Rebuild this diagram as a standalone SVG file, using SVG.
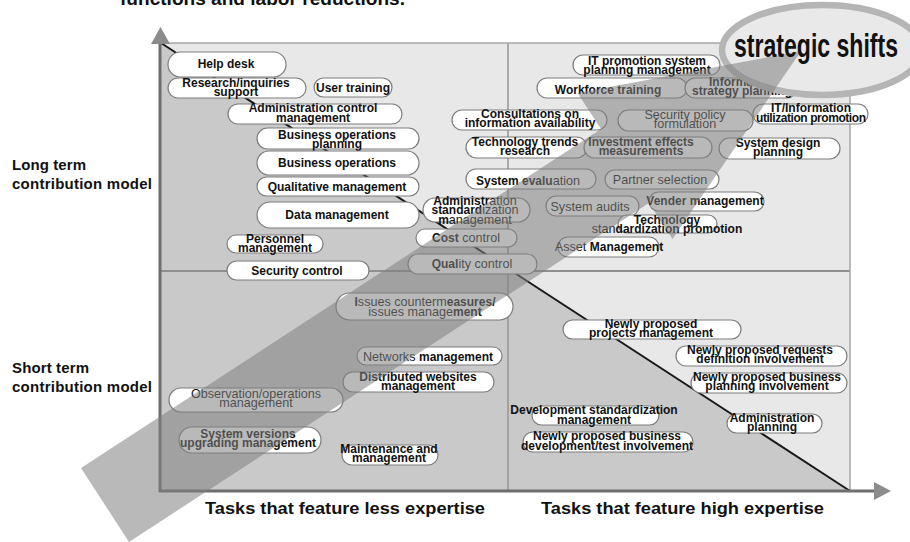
<svg xmlns="http://www.w3.org/2000/svg" width="910" height="542" viewBox="0 0 910 542">
  <style>
    text { font-family: "Liberation Sans", Arial, sans-serif; fill: #111; }
    .node rect { fill: #ffffff; stroke: #7d7d7d; stroke-width: 1.2; }
    .node text { font-size: 12px; font-weight: bold; text-anchor: middle; }
    .node .r { font-weight: normal; font-size: 12.6px; }
    .axis-label { font-size: 15px; font-weight: bold; }
    .task-label { font-size: 16.5px; font-weight: bold; }
  </style>

  <!-- heading line, mostly above the page -->
  <text x="120" y="5" font-size="18" font-weight="bold" textLength="285" lengthAdjust="spacingAndGlyphs">functions and labor reductions.</text>

  <!-- matrix background -->
  <g id="matrix">
    <rect x="160" y="43" width="690" height="448" fill="#e8e8e9"/>
    <polygon points="160,43 160,491 850,491" fill="#c9c9ca"/>
    <line x1="508" y1="43" x2="508" y2="491" stroke="#959595" stroke-width="1.5"/>
    <line x1="160" y1="271" x2="850" y2="271" stroke="#8f8f8f" stroke-width="2"/>
    <rect x="160" y="43" width="690" height="448" fill="none" stroke="#a6a6a6" stroke-width="1.5"/>
  </g>

  <!-- diagonal and axes -->
  <g id="axes">
    <line x1="161" y1="43" x2="850" y2="491" stroke="#1a1a1a" stroke-width="2"/>
    <line x1="160" y1="492" x2="160" y2="42" stroke="#6e6e6e" stroke-width="3"/>
    <polygon points="151,44 160.5,27 170,44" fill="#8c8c8c"/>
    <line x1="159" y1="491" x2="876" y2="491" stroke="#6e6e6e" stroke-width="3"/>
    <polygon points="874,482 891,491 874,500" fill="#8c8c8c"/>
  </g>

  <!-- side labels -->
  <text class="axis-label" x="12" y="170" textLength="74">Long term</text>
  <text class="axis-label" x="12" y="189" textLength="140">contribution model</text>
  <text class="axis-label" x="12" y="373" textLength="77">Short term</text>
  <text class="axis-label" x="12" y="392" textLength="140">contribution model</text>
  <text class="task-label" x="205" y="514" textLength="280" lengthAdjust="spacingAndGlyphs">Tasks that feature less expertise</text>
  <text class="task-label" x="541" y="514" textLength="283" lengthAdjust="spacingAndGlyphs">Tasks that feature high expertise</text>

  <!-- task nodes -->
  <g id="n-help-desk" class="node"><rect x="168" y="52" width="118" height="25" rx="12.5"/><text x="226" y="68">Help desk</text></g>
  <g id="n-research" class="node"><rect x="168" y="78" width="138" height="20" rx="10"/><text x="236" y="86.5">Research/inquiries</text><text x="236" y="95.5">support</text></g>
  <g id="n-user-training" class="node"><rect x="314" y="78" width="78" height="19" rx="9.5"/><text x="353" y="91.5">User training</text></g>
  <g id="n-admin-control" class="node"><rect x="228" y="104" width="174" height="20" rx="10"/><text x="313" y="112">Administration control</text><text x="313" y="121.5">management</text></g>
  <g id="n-bizops-planning" class="node"><rect x="257" y="128" width="162" height="21" rx="10.5"/><text x="337" y="138.5">Business operations</text><text x="337" y="147.5">planning</text></g>
  <g id="n-bizops" class="node"><rect x="257" y="151" width="162" height="24" rx="12"/><text x="337" y="167">Business operations</text></g>
  <g id="n-qualitative" class="node"><rect x="257" y="177" width="162" height="19" rx="9.5"/><text x="337" y="190.5">Qualitative management</text></g>
  <g id="n-data" class="node"><rect x="257" y="202" width="162" height="26" rx="13"/><text x="337" y="219">Data management</text></g>
  <g id="n-personnel" class="node"><rect x="227" y="235" width="96" height="18" rx="9"/><text x="275" y="243">Personnel</text><text x="275" y="252">management</text></g>
  <g id="n-security-control" class="node"><rect x="227" y="261" width="142" height="19" rx="9.5"/><text x="297" y="274.5">Security control</text></g>
  <g id="n-admin-std" class="node"><rect x="423" y="198" width="107" height="24" rx="12"/><text x="475" y="205">Administr<tspan class="r">ation</tspan></text><text x="475" y="214">standard<tspan class="r">ization</tspan></text><text x="475" y="223.5">m<tspan class="r">anagement</tspan></text></g>
  <g id="n-cost" class="node"><rect x="416" y="229" width="101" height="18" rx="9"/><text x="466" y="241.5">Cost<tspan class="r"> control</tspan></text></g>
  <g id="n-quality" class="node"><rect x="408" y="254" width="129" height="20" rx="10"/><text x="472" y="268">Qual<tspan class="r">ity control</tspan></text></g>
  <g id="n-tech-trends" class="node"><rect x="466" y="137" width="121" height="21" rx="10.5"/><text x="525" y="145.5">Technology trends</text><text x="525" y="154.5">research</text></g>
  <g id="n-investment" class="node"><rect x="584" y="137" width="128" height="21" rx="10.5"/><text x="641" y="145.5">Investment effects</text><text x="641" y="154.5">measurements</text></g>
  <g id="n-system-design" class="node"><rect x="719" y="138" width="121" height="21" rx="10.5"/><text x="778" y="146.5">System design</text><text x="778" y="155.5">planning</text></g>
  <g id="n-system-eval" class="node"><rect x="466" y="169" width="130" height="20" rx="10"/><text x="528" y="184.5">System evalu<tspan class="r">ation</tspan></text></g>
  <g id="n-partner" class="node"><rect x="605" y="170" width="114" height="19" rx="9.5"/><text x="660" y="183.5" class="r">Partner selection</text></g>
  <g id="n-system-audits" class="node"><rect x="546" y="196" width="93" height="20" rx="10"/><text x="590" y="210.5" class="r">System audits</text></g>
  <g id="n-vender" class="node"><rect x="649" y="192" width="115" height="19" rx="9.5"/><text x="705" y="205">Vender management</text></g>
  <g id="n-tech-std" class="node"><rect x="618" y="215" width="99" height="18" rx="9"/><text x="667" y="223.5">Technology</text><text x="667" y="232.5"><tspan class="r">stan</tspan>dardization promotion</text></g>
  <g id="n-asset" class="node"><rect x="558" y="237" width="101" height="20" rx="10"/><text x="609" y="251"><tspan class="r">Asset </tspan>Management</text></g>
  <g id="n-it-promotion" class="node"><rect x="573" y="55" width="147" height="20" rx="10"/><text x="647" y="65">IT promotion system</text><text x="647" y="74">planning management</text></g>
  <g id="n-workforce" class="node"><rect x="537" y="78" width="150" height="20" rx="10"/><text x="608" y="93.5">Workforce training</text></g>
  <g id="n-info-strategy" class="node"><rect x="685" y="78" width="112" height="20" rx="10"/><text x="742" y="85.5">Information</text><text x="742" y="94.5">strategy planning</text></g>
  <g id="n-consultations" class="node"><rect x="452" y="110" width="155" height="20" rx="10"/><text x="530" y="118">Consultations on</text><text x="530" y="127">information availability</text></g>
  <g id="n-security-policy" class="node"><rect x="618" y="110" width="135" height="21" rx="10.5"/><text x="685" y="118.5" class="r">Security policy</text><text x="685" y="127.5" class="r">formulation</text></g>
  <g id="n-it-info" class="node"><rect x="753" y="104" width="115" height="20" rx="10"/><text x="811" y="112">IT/Information</text><text x="811" y="121.5" textLength="110">utilization promotion</text></g>
  <g id="n-issues" class="node"><rect x="336" y="293" width="177" height="27" rx="13.5"/><text x="425" y="305.5">I<tspan class="r">ssues counterm</tspan>easures/</text><text x="425" y="315.5"><tspan class="r">issues manage</tspan>ment</text></g>
  <g id="n-networks" class="node"><rect x="357" y="347" width="145" height="18" rx="9"/><text x="428" y="361"><tspan class="r">Networks </tspan>management</text></g>
  <g id="n-distributed" class="node"><rect x="343" y="372" width="151" height="20" rx="10"/><text x="418" y="380.5">Distributed websites</text><text x="418" y="390">management</text></g>
  <g id="n-observation" class="node"><rect x="169" y="388" width="174" height="24" rx="12"/><text x="256" y="397.5" class="r" font-size="12.8">Observation/operations</text><text x="256" y="407" class="r" font-size="12.8">management</text></g>
  <g id="n-sys-versions" class="node"><rect x="179" y="427" width="142" height="26" rx="13"/><text x="248" y="437.5">System versions</text><text x="248" y="447">upgrading management</text></g>
  <g id="n-maintenance" class="node"><rect x="342" y="445" width="96" height="20" rx="10"/><text x="389" y="452.5">Maintenance and</text><text x="389" y="462">management</text></g>
  <g id="n-new-projects" class="node"><rect x="563" y="320" width="178" height="19" rx="9.5"/><text x="651" y="327.5">Newly proposed</text><text x="651" y="337">projects management</text></g>
  <g id="n-new-requests" class="node"><rect x="676" y="346" width="171" height="20" rx="10"/><text x="760" y="354">Newly proposed requests</text><text x="760" y="363">definition involvement</text></g>
  <g id="n-new-biz-planning" class="node"><rect x="691" y="373" width="156" height="20" rx="10"/><text x="767" y="381">Newly proposed business</text><text x="767" y="390">planning involvement</text></g>
  <g id="n-admin-planning" class="node"><rect x="727" y="414" width="95" height="19" rx="9.5"/><text x="772" y="422" font-size="11.5">Administration</text><text x="772" y="431" font-size="11.5">planning</text></g>
  <g id="n-dev-std" class="node"><rect x="532" y="406" width="127" height="19" rx="9.5"/><text x="594" y="414">Development standardization</text><text x="594" y="423.5">management</text></g>
  <g id="n-new-biz-dev" class="node"><rect x="523" y="432" width="170" height="20" rx="10"/><text x="607" y="440">Newly proposed business</text><text x="607" y="449.5">development/test involvement</text></g>

  <!-- callout ellipse -->
  <ellipse id="callout" cx="822" cy="50" rx="100" ry="45" fill="#e9e9e9" stroke="#b5b5b5" stroke-width="6.5"/>

  <!-- broad shift arrow, translucent over the matrix -->
  <g id="shift-arrow">
    <path d="M81,468 L601,129 L577.5,93 L801,51 L672.5,239 L649,203 L129,542 Z" fill="#808080" fill-opacity="0.55"/>
  </g>

  <text x="734" y="57" font-size="34" font-weight="bold" textLength="164" lengthAdjust="spacingAndGlyphs">strategic shifts</text>
</svg>
